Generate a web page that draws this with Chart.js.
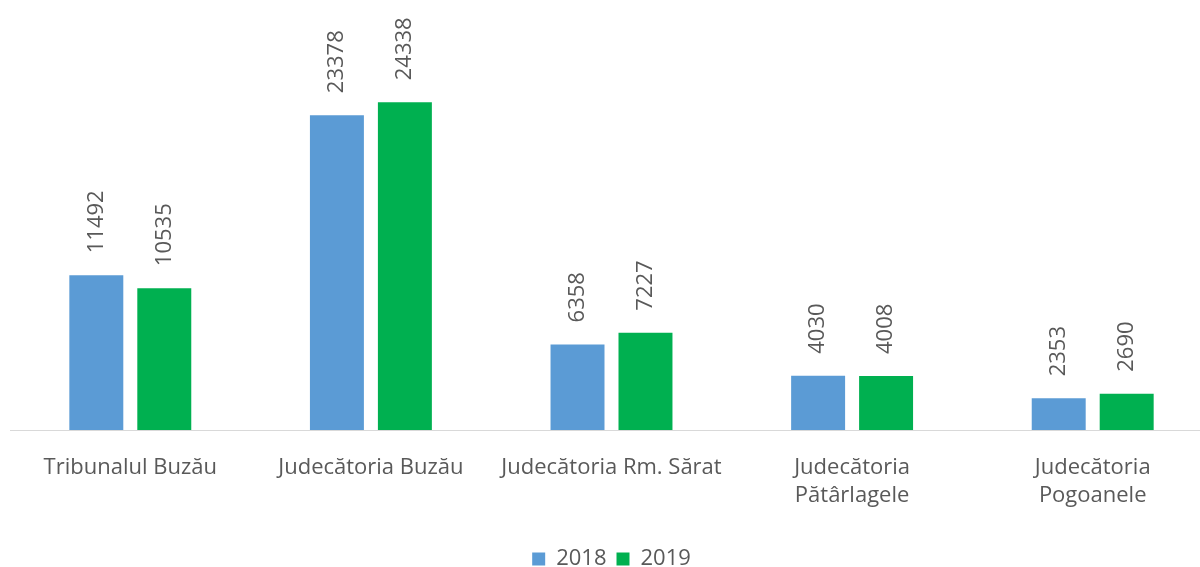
<!DOCTYPE html>
<html>
<head>
<meta charset="utf-8">
<script src="https://cdn.jsdelivr.net/npm/chart.js@4"></script>
<style>
  html, body { margin: 0; padding: 0; background: #fff; overflow: hidden; }
  #wrap { width: 1214px; height: 580px; }
</style>
</head>
<body>
<div id="wrap"><canvas id="chart"></canvas></div>
<script>
var categories = [
  "Tribunalul Buzău",
  "Judecătoria Buzău",
  "Judecătoria Rm. Sărat",
  ["Judecătoria", "Pătârlagele"],
  ["Judecătoria", "Pogoanele"]
];
var values2018 = [11492, 23378, 6358, 4030, 2353];
var values2019 = [10535, 24338, 7227, 4008, 2690];

var textColor = "#595959";
var fontFamily = "'Open Sans', 'Liberation Sans', sans-serif";

// Draw the rotated value labels above each bar
var valueLabels = {
  id: "valueLabels",
  afterDatasetsDraw: function (chart) {
    var ctx = chart.ctx;
    chart.data.datasets.forEach(function (ds, i) {
      var meta = chart.getDatasetMeta(i);
      meta.data.forEach(function (bar, j) {
        ctx.save();
        ctx.translate(bar.x, bar.y - 22);
        ctx.rotate(-Math.PI / 2);
        ctx.fillStyle = textColor;
        ctx.font = "22px " + fontFamily;
        ctx.textAlign = "left";
        ctx.textBaseline = "middle";
        ctx.fillText(ds.data[j], 0, 0);
        ctx.restore();
      });
    });
  }
};

var ctx = document.getElementById("chart").getContext("2d");
var myChart = new Chart(ctx, {
  type: "bar",
  data: {
    labels: categories,
    datasets: [
      {
        label: "2018",
        data: values2018,
        backgroundColor: "#5B9BD5",
        categoryPercentage: 0.565,
        barPercentage: 0.794
      },
      {
        label: "2019",
        data: values2019,
        backgroundColor: "#00B050",
        categoryPercentage: 0.565,
        barPercentage: 0.794
      }
    ]
  },
  options: {
    responsive: true,
    maintainAspectRatio: false,
    animation: false,
    layout: { padding: { top: 26, left: 10, right: 1, bottom: 0 } },
    scales: {
      x: {
        grid: { display: false },
        border: { display: true, color: "#D9D9D9", width: 1 },
        ticks: {
          color: textColor,
          font: { family: fontFamily, size: 22, lineHeight: 1.27 },
          padding: 16,
          maxRotation: 0,
          autoSkip: false
        },
        afterFit: function (scale) {
          scale.height = 108;
        }
      },
      y: {
        display: false,
        min: 0,
        max: 30000
      }
    },
    plugins: {
      legend: {
        position: "bottom",
        labels: {
          color: textColor,
          font: { family: fontFamily, size: 22 },
          boxWidth: 13,
          boxHeight: 13,
          padding: 10
        }
      },
      tooltip: { enabled: false }
    }
  },
  plugins: [valueLabels]
});
</script>
</body>
</html>
